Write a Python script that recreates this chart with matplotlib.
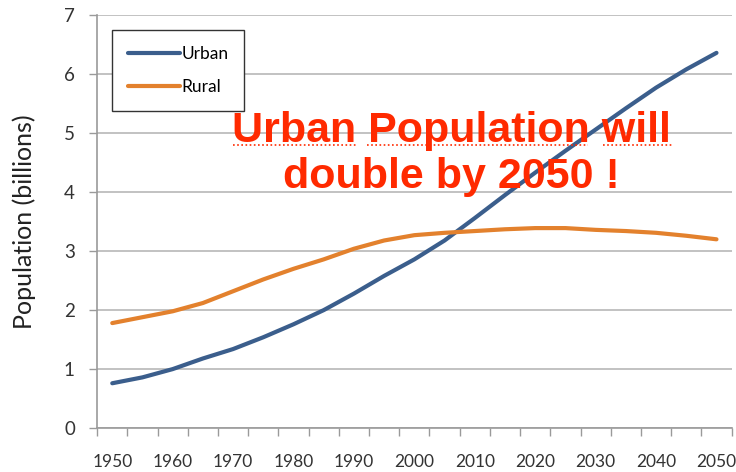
import matplotlib.pyplot as plt

years = [1950, 1955, 1960, 1965, 1970, 1975, 1980, 1985, 1990, 1995, 2000,
         2005, 2010, 2015, 2020, 2025, 2030, 2035, 2040, 2045, 2050]
urban = [0.76, 0.86, 1.00, 1.18, 1.34, 1.54, 1.76, 2.00, 2.28, 2.58, 2.86,
         3.18, 3.56, 3.95, 4.33, 4.70, 5.06, 5.42, 5.77, 6.08, 6.36]
rural = [1.78, 1.88, 1.98, 2.12, 2.32, 2.52, 2.70, 2.86, 3.04, 3.18, 3.27,
         3.31, 3.34, 3.37, 3.39, 3.39, 3.36, 3.34, 3.31, 3.26, 3.20]

plt.rcParams['font.family'] = ['Lato', 'DejaVu Sans']

fig = plt.figure(figsize=(7.36, 4.72), dpi=100)
ax = fig.add_axes([0.132, 0.093, 0.862, 0.875])

idx = list(range(len(years)))
ax.plot(idx, urban, color='#3B5E8C', lw=3, label='Urban', solid_capstyle='round')
ax.plot(idx, rural, color='#E3812D', lw=3, label='Rural', solid_capstyle='round')

ax.set_xlim(-0.5, len(years) - 0.5)
ax.set_ylim(0, 7)

grey = '#9a9a9a'
# category axis: labels every 10 years, ticks at category boundaries
ax.set_xticks(idx[::2])
ax.set_xticklabels([str(y) for y in years[::2]], fontsize=12.5, color='#333333')
ax.tick_params(axis='x', which='major', length=0, pad=19)
ax.set_xticks([i - 0.5 for i in range(len(years) + 1)], minor=True)
ax.tick_params(axis='x', which='minor', length=6, color=grey, width=1)

ax.set_yticks(range(0, 8))
ax.tick_params(axis='y', length=6, color=grey, width=1, pad=10,
               labelsize=13.5, labelcolor='#333333')
ax.yaxis.grid(True, color='#b8b8b8', lw=1.2)
ax.set_axisbelow(True)

for s in ['top', 'right']:
    ax.spines[s].set_visible(False)
for s in ['left', 'bottom']:
    ax.spines[s].set_color(grey)
    ax.spines[s].set_linewidth(1.2)

ax.set_ylabel('Population (billions)', fontsize=18, color='#222222', labelpad=20)

leg = ax.legend(loc='upper left', bbox_to_anchor=(0.01, 0.985), fontsize=12.5,
                handlelength=3.0, handletextpad=0.1, labelspacing=1.0,
                borderpad=0.9, fancybox=False, framealpha=1)
leg.get_frame().set_edgecolor('#333333')
leg.get_frame().set_linewidth(1.0)

fig.text(0.613, 0.674, 'Urban Population will\ndouble by 2050 !', ha='center', va='center',
         fontsize=31, fontweight='bold', color='#FF2A00', family='Liberation Sans',
         linespacing=1.2)

# spell-check style dotted underlines under the first line
for x0, x1 in [(233, 356), (367, 588), (603, 672)]:
    fig.add_artist(plt.Line2D([x0 / 736, x1 / 736], [1 - 145 / 472, 1 - 145 / 472],
                              color='#FF2A00', lw=1.2, ls=(0, (1, 1.5))))

fig.savefig('out.png', dpi=100)
